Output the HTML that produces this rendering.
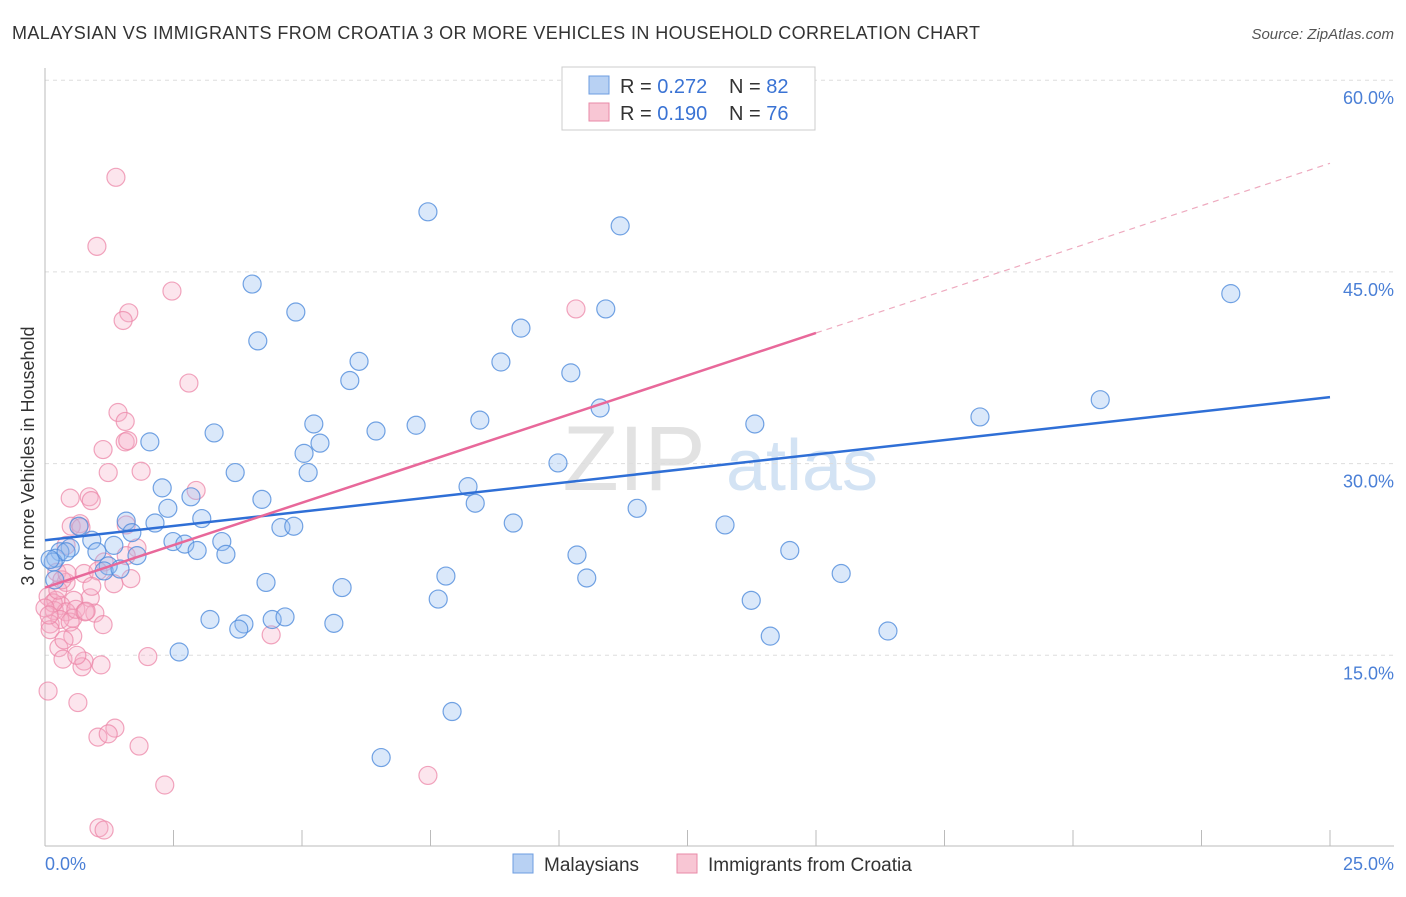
<!DOCTYPE html>
<html><head><meta charset="utf-8"><style>
body{margin:0;background:#fff;font-family:"Liberation Sans",sans-serif;}
svg text{font-family:"Liberation Sans",sans-serif;}
</style></head><body>
<svg id="chart" width="1406" height="892">
<text x="12" y="39" font-size="18" fill="#333" textLength="968" lengthAdjust="spacing">MALAYSIAN VS IMMIGRANTS FROM CROATIA 3 OR MORE VEHICLES IN HOUSEHOLD CORRELATION CHART</text>
<text x="1394" y="39" font-size="15" fill="#555" font-style="italic" text-anchor="end">Source: ZipAtlas.com</text>
<g>
<text x="634" y="490" font-size="92" fill="#e2e2e2" font-family="Liberation Serif" text-anchor="middle">ZIP</text>
<text x="802" y="490" font-size="72" fill="#d3e3f4" text-anchor="middle">atlas</text>
</g>
<g id="grid"></g><g id="axes"></g><g id="pts"></g><g id="trend"></g>
<text transform="translate(34,456) rotate(-90)" font-size="18" fill="#333" text-anchor="middle">3 or more Vehicles in Household</text>
<text x="45" y="870" font-size="18" fill="#4a7fd6">0.0%</text>
<text x="1394" y="870" font-size="18" fill="#4a7fd6" text-anchor="end">25.0%</text>
<g>
<rect x="562" y="67" width="253" height="63" fill="#fff" stroke="#ccc"/>
<rect x="589" y="76" width="20" height="18" fill="#b8d1f3" stroke="#6d9de0"/>
<rect x="589" y="103" width="20" height="18" fill="#f8c6d4" stroke="#e98aa7"/>
<text x="620" y="93" font-size="20" fill="#333">R = <tspan fill="#3a73d4">0.272</tspan></text>
<text x="729" y="93" font-size="20" fill="#333">N = <tspan fill="#3a73d4">82</tspan></text>
<text x="620" y="120" font-size="20" fill="#333">R = <tspan fill="#3a73d4">0.190</tspan></text>
<text x="729" y="120" font-size="20" fill="#333">N = <tspan fill="#3a73d4">76</tspan></text>
</g>
<g>
<rect x="513" y="854" width="20" height="19" fill="#b8d1f3" stroke="#6d9de0"/>
<text x="544" y="871" font-size="19" fill="#333">Malaysians</text>
<rect x="677" y="854" width="20" height="19" fill="#f8c6d4" stroke="#e98aa7"/>
<text x="708" y="871" font-size="19" fill="#333">Immigrants from Croatia</text>
</g>
</svg>
<script>
const yTicks=[15,30,45,60];
const yTickLabels=["15.0%","30.0%","45.0%","60.0%"];
const xTicks=[0,2.5,5,7.5,10,12.5,15,17.5,20,22.5,25];
const blueX=[7.45,11.19,4.03,23.07,4.88,10.91,9.26,4.14,6.11,8.87,5.93,10.23,20.53,10.8,18.19,5.23,8.46,7.22,6.44,13.81,2.04,3.29,5.35,5.04,9.98,3.70,5.12,2.28,8.23,2.84,4.22,2.39,11.52,8.37,3.05,1.58,2.14,9.11,4.59,4.84,13.23,0.66,1.69,0.91,2.49,2.72,3.44,1.34,0.49,1.01,0.29,0.21,0.16,2.96,3.52,1.79,10.35,14.49,1.23,1.15,1.46,7.80,15.49,10.54,4.30,5.78,7.65,13.74,3.21,3.87,4.42,4.67,3.77,5.62,14.11,16.40,2.61,7.92,6.54,0.10,0.41,0.19];
const blueY=[49.7,48.6,44.05,43.3,41.86,42.1,40.6,39.6,38.0,37.95,36.5,37.1,35.0,34.35,33.65,33.1,33.4,33.0,32.55,33.1,31.7,32.4,31.6,30.8,30.05,29.3,29.3,28.1,28.2,27.4,27.2,26.5,26.5,26.9,25.7,25.5,25.35,25.35,25.0,25.1,25.2,25.1,24.6,24.0,23.9,23.7,23.9,23.6,23.4,23.1,23.1,22.6,22.3,23.2,22.9,22.8,22.85,23.2,22.0,21.6,21.75,21.2,21.4,21.05,20.7,20.3,19.4,19.3,17.8,17.45,17.8,18.0,17.05,17.5,16.5,16.9,15.26,10.6,7.0,22.5,23.1,20.9];
const pinkX=[1.38,1.01,2.47,1.63,10.33,1.52,2.80,1.42,1.56,1.13,1.56,1.61,1.23,1.87,2.94,0.49,0.86,0.90,0.68,0.51,1.58,0.70,0.41,1.79,1.58,1.15,0.23,0.76,1.03,0.41,1.67,1.34,0.06,0.21,0.88,0.56,0.31,0.18,0.97,0.41,0.54,0.29,0.10,1.13,0.49,0.10,0.54,0.27,0.76,0.35,0.72,1.09,2.00,4.40,0.06,0.64,1.36,1.03,1.23,1.83,2.33,7.45,1.05,1.15,0.16,0.25,0.33,0.60,0.78,0.0,0.08,0.37,0.62,0.80,0.43,0.91];
const pinkY=[52.4,47.0,43.5,41.8,42.1,41.2,36.3,34.0,33.3,31.1,31.7,31.8,29.3,29.4,27.9,27.3,27.4,27.1,25.3,25.1,25.2,25.0,23.6,23.4,22.8,22.3,21.5,21.4,21.6,20.7,21.0,20.6,19.6,19.3,19.5,19.3,18.9,18.5,18.3,18.4,17.9,17.8,17.45,17.4,17.6,17.0,16.5,15.6,14.55,14.7,14.1,14.25,14.9,16.6,12.2,11.3,9.3,8.6,8.85,7.9,4.85,5.6,1.5,1.33,19.1,20.1,20.9,18.6,18.4,18.7,18.15,16.2,15.0,18.45,21.4,20.4];
const blueTrend=[24.0,35.2];
const pinkTrend=[20.3,53.5];
const pinkSolidEnd=15.0;

const NS="http://www.w3.org/2000/svg";
const X=v=>45+v/25*1285;
const Y=v=>847-v*12.78;
function mk(tag,attrs,parent){const e=document.createElementNS(NS,tag);for(const k in attrs)e.setAttribute(k,attrs[k]);parent.appendChild(e);return e;}
const grid=document.getElementById('grid'),axes=document.getElementById('axes'),pts=document.getElementById('pts'),tr=document.getElementById('trend');
yTicks.forEach((t,i)=>{
  const l=mk('line',{x1:45,x2:1394,y1:Y(t),y2:Y(t),stroke:'#ddd','stroke-dasharray':'4,4'},grid);
  
  
  const tx=mk('text',{x:1394,y:Y(t)+24,'font-size':18,fill:'#4a7fd6','text-anchor':'end'},grid);
  tx.textContent=yTickLabels[i];
  
  
});
const ya=mk('line',{x1:45,x2:45,y1:68,y2:846,stroke:'#bbb'},axes);


const xa=mk('line',{x1:45,x2:1394,y1:846,y2:846,stroke:'#bbb'},axes);


xTicks.forEach(t=>{
  const l=mk('line',{x1:X(t),x2:X(t),y1:830,y2:846,stroke:'#bbb'},axes);
  
  
});
pinkX.forEach((x,i)=>{
  const c=mk('circle',{cx:X(x),cy:Y(pinkY[i]),r:9,fill:'rgba(246,175,198,0.32)',stroke:'rgba(236,135,168,0.75)','stroke-width':1.2},pts);
  
  
});
blueX.forEach((x,i)=>{
  const c=mk('circle',{cx:X(x),cy:Y(blueY[i]),r:9,fill:'rgba(150,190,240,0.35)',stroke:'rgba(80,140,220,0.8)','stroke-width':1.2},pts);
  
  
});
const bl=mk('line',{x1:X(0),y1:Y(blueTrend[0]),x2:X(25),y2:Y(blueTrend[1]),stroke:'#2f6fd6','stroke-width':2.5},tr);


const pm=v=>pinkTrend[0]+(pinkTrend[1]-pinkTrend[0])*v/25;
const pl=mk('line',{x1:X(0),y1:Y(pinkTrend[0]),x2:X(pinkSolidEnd),y2:Y(pm(pinkSolidEnd)),stroke:'#e8689a','stroke-width':2.5},tr);


const pd=mk('line',{x1:X(pinkSolidEnd),y1:Y(pm(pinkSolidEnd)),x2:X(25),y2:Y(pinkTrend[1]),stroke:'#eeaabf','stroke-width':1.2,'stroke-dasharray':'6,5'},tr);


</script>
</body></html>
